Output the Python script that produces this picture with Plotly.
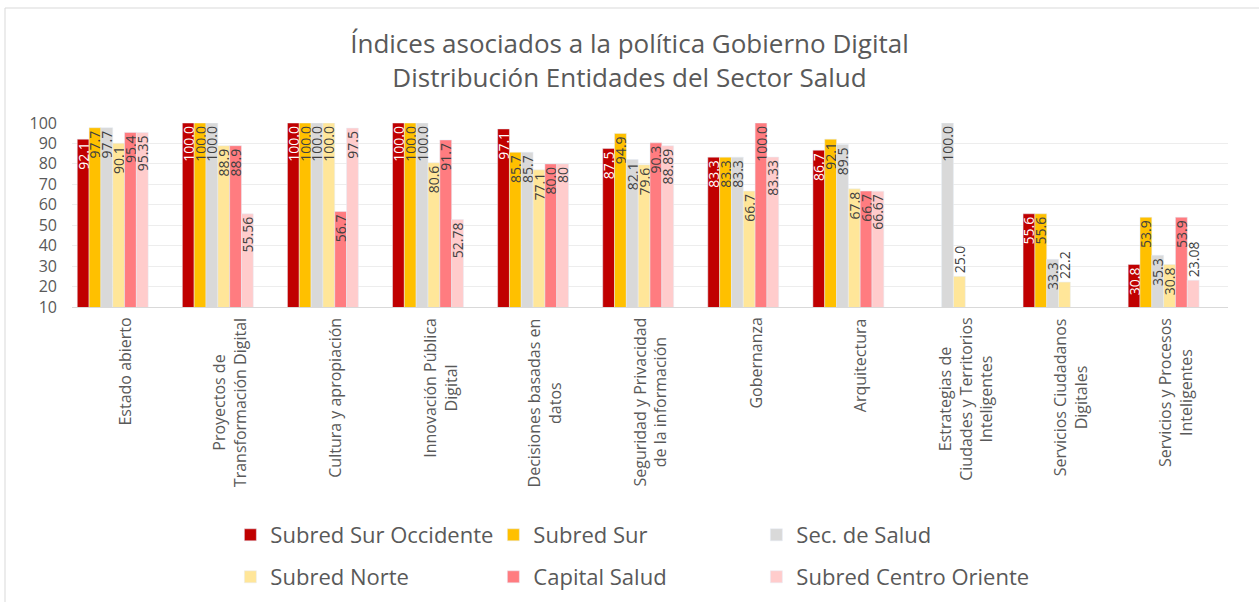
import plotly.graph_objects as go

categories = [
    "Estado abierto",
    "Proyectos de<br>Transformación Digital",
    "Cultura y apropiación",
    "Innovación Pública<br>Digital",
    "Decisiones basadas en<br>datos",
    "Seguridad y Privacidad<br>de la información",
    "Gobernanza",
    "Arquitectura",
    "Estrategias de<br>Ciudades y Territorios<br>Inteligentes",
    "Servicios Ciudadanos<br>Digitales",
    "Servicios y Procesos<br>Inteligentes",
]

subred_sur_occidente = [92.1, 100.0, 100.0, 100.0, 97.1, 87.5, 83.3, 86.7, 0, 55.6, 30.8]
subred_sur = [97.7, 100.0, 100.0, 100.0, 85.7, 94.9, 83.3, 92.1, 0, 55.6, 53.9]
sec_salud = [97.7, 100.0, 100.0, 100.0, 85.7, 82.1, 83.3, 89.5, 100.0, 33.3, 35.3]
subred_norte = [90.1, 88.9, 100.0, 80.6, 77.1, 79.6, 66.7, 67.8, 25.0, 22.2, 30.8]
capital_salud = [95.4, 88.9, 56.7, 91.7, 80.0, 90.3, 100.0, 66.7, 0, 0, 53.9]
subred_centro_oriente = [95.35, 55.56, 97.5, 52.78, 80, 88.89, 83.33, 66.67, 0, 0, 23.08]
serie7 = [0] * 11
serie8 = [0] * 11

FONT = "Open Sans"
GREY = "#595959"

series = [
    ("Subred Sur Occidente", subred_sur_occidente, "#C00000", "white", ".1f", "legend", 218),
    ("Subred Sur", subred_sur, "#FFC000", "#404040", ".1f", "legend", 218),
    ("Sec. de Salud", sec_salud, "#D9D9D9", "#404040", ".1f", "legend", 260),
    ("Subred Norte", subred_norte, "#FFE699", "#404040", ".1f", "legend2", 218),
    ("Capital Salud", capital_salud, "#FF7C80", "#404040", ".1f", "legend2", 218),
    ("Subred Centro Oriente", subred_centro_oriente, "#FFCCCC", "#404040", "g", "legend2", 260),
]

fig = go.Figure()
for name, vals, color, tcolor, fmt, leg, lw in series:
    fig.add_trace(go.Bar(
        name=name, x=categories, y=vals,
        marker=dict(color=color),
        text=[format(v, fmt) if v else "" for v in vals],
        textposition=["outside" if v < 26 else "inside" for v in vals],
        insidetextanchor="end", textangle=-90,
        constraintext="none", cliponaxis=False,
        textfont=dict(family=FONT, size=14, color=tcolor),
        outsidetextfont=dict(family=FONT, size=14, color="#404040"),
        legend=leg, legendwidth=lw,
    ))
for name, vals, color in [("Serie7", serie7, "#FFFF00"), ("Serie8", serie8, "#9E480E")]:
    fig.add_trace(go.Bar(name=name, x=categories, y=vals, marker=dict(color=color),
                         showlegend=False))

# category labels as centred, rotated annotations placed on the category axis
for c in categories:
    fig.add_annotation(x=c, xref="x", y=0, yref="paper", yanchor="top", xanchor="center",
                       yshift=-9, text=c, textangle=-90, align="center", showarrow=False,
                       font=dict(family=FONT, size=16, color=GREY))

fig.update_layout(
    width=1259, height=602,
    margin=dict(l=72, r=31, t=123, b=295, autoexpand=False),
    paper_bgcolor="white", plot_bgcolor="white",
    barmode="group", bargap=0.1, bargroupgap=0,
    font=dict(family=FONT, color=GREY),
    title=dict(
        text="Índices asociados a la política Gobierno Digital<br>Distribución Entidades del Sector Salud",
        x=0.5, xref="container", xanchor="center",
        y=1 - 53 / 602, yref="container", yanchor="middle",
        font=dict(family=FONT, size=26, color=GREY),
    ),
    yaxis=dict(range=[10, 100], dtick=10, tick0=10, gridcolor="#EDEDED", gridwidth=1,
               showline=False, zeroline=False, ticks="", ticklabelstandoff=14,
               tickfont=dict(family=FONT, size=16, color=GREY)),
    xaxis=dict(showline=True, linecolor="#D9D9D9", linewidth=1, ticks="",
               showticklabels=False),
    legend=dict(orientation="h", x=0.137, xanchor="left", y=(307 - 535) / 184, yanchor="middle",
                entrywidthmode="pixels",
                font=dict(family=FONT, size=22, color=GREY)),
    legend2=dict(orientation="h", x=0.137, xanchor="left", y=(307 - 577) / 184, yanchor="middle",
                 entrywidthmode="pixels",
                 font=dict(family=FONT, size=22, color=GREY)),
    shapes=[dict(type="rect", xref="paper", yref="paper",
                 x0=(5 - 72) / 1156, x1=(1265 - 72) / 1156,
                 y0=(307 - 610) / 184, y1=(307 - 8) / 184,
                 line=dict(color="#D9D9D9", width=1), fillcolor="rgba(0,0,0,0)", layer="below")],
)

fig.write_html("out.html", config={"displayModeBar": False},
               post_script="document.body.style.margin='0';")
